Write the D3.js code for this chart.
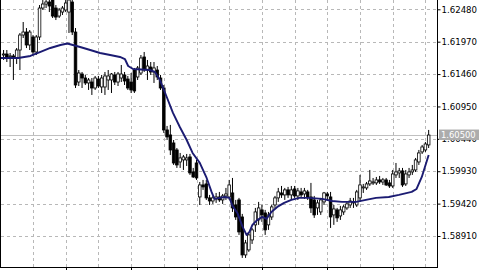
<!DOCTYPE html>
<html><head><meta charset="utf-8">
<script src="https://cdn.jsdelivr.net/npm/d3@7"></script>
<style>html,body{margin:0;padding:0;background:#fff;overflow:hidden}</style>
</head><body><svg id="c" width="480" height="270"></svg>
<script>
// ---- data ----
const opens=[1.61760,1.61776,1.61729,1.61745,1.61713,1.61839,1.62075,1.62122,1.61918,1.62044,1.61808,1.62044,1.62500,1.62563,1.62595,1.62626,1.62500,1.62374,1.62437,1.62469,1.62437,1.62595,1.62122,1.61335,1.61461,1.61398,1.61320,1.61335,1.61241,1.61382,1.61257,1.61257,1.61367,1.61367,1.61446,1.61335,1.61398,1.61446,1.61382,1.61335,1.61524,1.61414,1.61477,1.61729,1.61524,1.61571,1.61493,1.61524,1.61398,1.61241,1.60580,1.60501,1.60375,1.60265,1.60076,1.60108,1.60108,1.60155,1.59919,1.60060,1.59525,1.59714,1.59730,1.59510,1.59462,1.59494,1.59525,1.59478,1.59541,1.59525,1.59588,1.59399,1.59478,1.59210,1.58612,1.58691,1.58848,1.59085,1.59163,1.59321,1.59273,1.59085,1.59210,1.59399,1.59510,1.59588,1.59557,1.59636,1.59557,1.59651,1.59541,1.59604,1.59572,1.59604,1.59525,1.59478,1.59352,1.59289,1.59447,1.59572,1.59525,1.59242,1.59321,1.59226,1.59289,1.59352,1.59399,1.59447,1.59399,1.59510,1.59667,1.59667,1.59730,1.59761,1.59746,1.59793,1.59761,1.59793,1.59746,1.59698,1.59872,1.59903,1.59935,1.59730,1.59872,1.59919,1.59950,1.60076,1.60234,1.60265,1.60344];
const highs=[1.61839,1.61839,1.61792,1.61776,1.61870,1.62107,1.62280,1.62185,1.62154,1.62075,1.62075,1.62547,1.62626,1.62705,1.62705,1.62705,1.62547,1.62500,1.62532,1.62626,1.62673,1.62657,1.62185,1.61524,1.61493,1.61446,1.61398,1.61398,1.61430,1.61430,1.61446,1.61493,1.61524,1.61477,1.61493,1.61493,1.61603,1.61493,1.61430,1.61477,1.61556,1.61587,1.61760,1.61808,1.61682,1.61650,1.61650,1.61587,1.61446,1.61288,1.60643,1.60659,1.60422,1.60296,1.60218,1.60186,1.60202,1.60202,1.59982,1.60108,1.59761,1.59793,1.59793,1.59557,1.59541,1.59588,1.59604,1.59572,1.59667,1.59793,1.59824,1.59478,1.59510,1.59258,1.58848,1.58959,1.59037,1.59352,1.59447,1.59399,1.59321,1.59289,1.59399,1.59541,1.59667,1.59698,1.59667,1.59683,1.59698,1.59698,1.59667,1.59667,1.59667,1.59636,1.59746,1.59541,1.59478,1.59510,1.59604,1.59604,1.59604,1.59399,1.59352,1.59384,1.59399,1.59447,1.59510,1.59510,1.59636,1.59872,1.59730,1.59761,1.59950,1.59824,1.59840,1.59856,1.59824,1.59824,1.59793,1.59950,1.60060,1.59982,1.59982,1.59950,1.59982,1.60029,1.60139,1.60265,1.60344,1.60391,1.60580];
const lows=[1.61682,1.61650,1.61571,1.61367,1.61619,1.61524,1.62028,1.61870,1.61839,1.61760,1.61760,1.61996,1.62469,1.62500,1.62437,1.62343,1.62311,1.62343,1.62390,1.62437,1.62107,1.62075,1.61241,1.61272,1.61241,1.61288,1.61210,1.61131,1.61210,1.61241,1.61162,1.61131,1.61210,1.61162,1.61288,1.61272,1.61335,1.61288,1.61210,1.61162,1.61162,1.61367,1.61446,1.61493,1.61367,1.61446,1.61320,1.61367,1.61210,1.60533,1.60422,1.60186,1.60029,1.59982,1.59982,1.59950,1.60013,1.59872,1.59824,1.59793,1.59399,1.59636,1.59478,1.59399,1.59415,1.59431,1.59447,1.59415,1.59478,1.59478,1.59289,1.59163,1.58927,1.58565,1.58565,1.58660,1.58785,1.58974,1.59085,1.59132,1.58927,1.59006,1.59163,1.59352,1.59447,1.59510,1.59478,1.59510,1.59478,1.59510,1.59478,1.59510,1.59494,1.59478,1.59273,1.59195,1.59242,1.59242,1.59399,1.59478,1.59037,1.59085,1.59132,1.59163,1.59242,1.59321,1.59352,1.59352,1.59368,1.59447,1.59588,1.59636,1.59698,1.59714,1.59714,1.59730,1.59714,1.59698,1.59667,1.59667,1.59824,1.59824,1.59683,1.59698,1.59824,1.59872,1.59919,1.60029,1.60202,1.60234,1.60296];
const closes=[1.61776,1.61729,1.61745,1.61729,1.61839,1.62075,1.62122,1.61918,1.62122,1.61808,1.62044,1.62500,1.62563,1.62595,1.62532,1.62374,1.62358,1.62469,1.62500,1.62579,1.62626,1.62122,1.61288,1.61477,1.61398,1.61320,1.61367,1.61241,1.61398,1.61272,1.61398,1.61430,1.61430,1.61461,1.61335,1.61461,1.61461,1.61351,1.61241,1.61210,1.61194,1.61556,1.61713,1.61524,1.61587,1.61493,1.61556,1.61414,1.61241,1.60580,1.60470,1.60265,1.60060,1.60029,1.60139,1.60155,1.60139,1.59903,1.59840,1.59824,1.59714,1.59683,1.59510,1.59462,1.59510,1.59525,1.59478,1.59541,1.59572,1.59714,1.59352,1.59210,1.58974,1.58612,1.58801,1.58927,1.59006,1.59289,1.59352,1.59242,1.59006,1.59242,1.59368,1.59510,1.59604,1.59557,1.59636,1.59557,1.59636,1.59541,1.59620,1.59557,1.59620,1.59525,1.59352,1.59242,1.59431,1.59478,1.59588,1.59541,1.59210,1.59336,1.59195,1.59321,1.59368,1.59415,1.59462,1.59431,1.59604,1.59714,1.59683,1.59730,1.59777,1.59761,1.59793,1.59761,1.59793,1.59714,1.59698,1.59887,1.59919,1.59935,1.59714,1.59887,1.59919,1.59950,1.60108,1.60218,1.60312,1.60359,1.60500];
const maBars=[-1,4.5,8.2,11.3,14.3,17.4,19.5,23.4,26.5,29.5,32.6,35.6,37.1,38.1,39.6,44.7,46.3,47.8,49.9,51.8,53.9,56.0,57.8,60.0,62.1,63.6,64.5,66.1,67.6,69.1,70.0,71.5,73.1,74.3,75.2,76.1,77.6,79.1,80.4,81.9,83.7,85.8,88.0,90.4,93.5,97.4,100.5,103.5,107.8,110.8,113.9,117.8,120.9,124.8,126.3,127.9,130];
const maValues=[1.61713,1.61713,1.61745,1.61808,1.61871,1.61918,1.61941,1.61886,1.61839,1.61792,1.61760,1.61729,1.61697,1.61587,1.61540,1.61524,1.61493,1.61367,1.61099,1.60848,1.60627,1.60422,1.60218,1.60061,1.59824,1.59604,1.59494,1.59510,1.59525,1.59510,1.59384,1.59273,1.59053,1.58927,1.58974,1.59085,1.59163,1.59211,1.59179,1.59289,1.59368,1.59431,1.59478,1.59510,1.59510,1.59494,1.59462,1.59447,1.59447,1.59478,1.59510,1.59525,1.59557,1.59604,1.59651,1.59840,1.60186];
const priceTicks=["1.58910","1.59420","1.59930","1.60440","1.60950","1.61460","1.61970","1.62480"];
const timeGridBars=[9,19,29,39,49,59,69,79,89,99,109,119,129];
const timeTickBars=[19,39,59,79,99,119];
const bidPrice=1.60500, bidLabel="1.60500";

// ---- drawing ----
const plotR=437,plotB=267;
const svg=d3.select("#c");
const x=d3.scaleLinear().domain([0,130]).range([3.57,428.67]);
const y=d3.scaleLinear().domain([1.58910,1.62480]).range([236,9.3]);
const snap=v=>Math.round(v)+0.5;
const FONT="DejaVu Sans, Tahoma, sans-serif";

svg.append("defs").append("clipPath").attr("id","pc").append("rect")
  .attr("x",1).attr("y",0).attr("width",plotR-1).attr("height",plotB);

const grid=svg.append("g").attr("stroke","#b8b8b8").attr("stroke-width",1)
  .attr("stroke-dasharray","3,3").attr("shape-rendering","crispEdges");
grid.selectAll("line.h").data(priceTicks).join("line").attr("class","h")
  .attr("x1",1).attr("x2",plotR).attr("y1",d=>snap(y(+d))).attr("y2",d=>snap(y(+d)));
grid.selectAll("line.v").data(timeGridBars).join("line").attr("class","v")
  .attr("y1",0).attr("y2",plotB).attr("x1",d=>snap(x(d))).attr("x2",d=>snap(x(d)));

// bid line
svg.append("line").attr("x1",1).attr("x2",plotR).attr("y1",snap(y(bidPrice))).attr("y2",snap(y(bidPrice)))
  .attr("stroke","#c0c0c0").attr("stroke-width",1).attr("shape-rendering","crispEdges");

const idx=d3.range(opens.length);
const cg=svg.append("g").attr("clip-path","url(#pc)");
cg.selectAll("line.w").data(idx).join("line").attr("class","w")
  .attr("x1",i=>x(i)).attr("x2",i=>x(i)).attr("y1",i=>y(highs[i])).attr("y2",i=>y(lows[i]))
  .attr("stroke","#000").attr("stroke-width",1);
const bw=2.6;
cg.selectAll("rect.b").data(idx).join("rect").attr("class","b")
  .attr("x",i=>x(i)-bw/2).attr("width",bw)
  .attr("y",i=>Math.min(y(opens[i]),y(closes[i])))
  .attr("height",i=>Math.max(1,Math.abs(y(opens[i])-y(closes[i]))))
  .attr("fill",i=>closes[i]>=opens[i]?"#fff":"#000")
  .attr("stroke","#000").attr("stroke-width",0.8);

// moving average
cg.append("path").datum(d3.zip(maBars,maValues))
  .attr("d",d3.line().x(d=>x(d[0])).y(d=>y(d[1])))
  .attr("fill","none").attr("stroke","#1b1b72").attr("stroke-width",1.9).attr("stroke-linejoin","round");

// frame
svg.append("g").attr("stroke","#000").attr("stroke-width",1).attr("shape-rendering","crispEdges")
  .call(g=>{
    g.append("line").attr("x1",0.5).attr("x2",0.5).attr("y1",0).attr("y2",plotB+0.5);
    g.append("line").attr("x1",plotR+0.5).attr("x2",plotR+0.5).attr("y1",0).attr("y2",plotB+0.5);
    g.append("line").attr("x1",0).attr("x2",plotR+1).attr("y1",plotB+0.5).attr("y2",plotB+0.5);
  });

// right axis
const ra=svg.append("g").attr("transform",`translate(${plotR+0.5},0)`)
  .call(d3.axisRight(y).tickValues(priceTicks.map(Number)).tickFormat((d,i)=>priceTicks[i]).tickSize(3).tickPadding(1));
ra.select(".domain").remove();
ra.selectAll("text").attr("font-family",FONT).attr("font-size","8.6px").attr("fill","#000");
ra.selectAll("line").attr("stroke","#000");

// bottom axis ticks
const ba=svg.append("g").attr("transform",`translate(0,${plotB+0.5})`)
  .call(d3.axisBottom(x).tickValues(timeTickBars).tickSize(3).tickFormat(""));
ba.select(".domain").remove();
ba.selectAll("line").attr("stroke","#000").attr("shape-rendering","crispEdges");

// bid label (drawn over the 1.60440 label, as in the terminal)
const by=y(bidPrice);
svg.append("rect").attr("x",plotR+2).attr("y",by-5.5).attr("width",40).attr("height",10.5).attr("fill","#acacac");
svg.append("text").attr("x",plotR+4).attr("y",by+0.5).attr("dy","0.32em")
  .attr("font-family",FONT).attr("font-size","8.4px").attr("fill","#fff").text(bidLabel);
</script></body></html>
